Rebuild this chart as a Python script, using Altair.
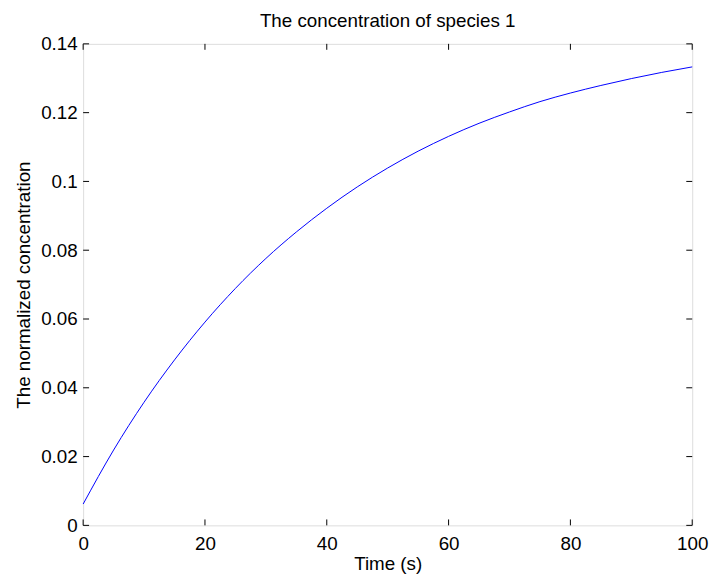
import altair as alt
import pandas as pd

# Data
time_s = [0, 5, 10, 15, 20, 25, 30, 35, 40, 45, 50,
          55, 60, 65, 70, 75, 80, 85, 90, 95, 100]
concentration = [0.0062, 0.0219, 0.0358, 0.0481, 0.0591, 0.0689, 0.0776,
                 0.0853, 0.0922, 0.0984, 0.1039, 0.1088, 0.1131, 0.1169,
                 0.1202, 0.1232, 0.1257, 0.1279, 0.1299, 0.1317, 0.1333]
x_ticks = [0, 20, 40, 60, 80, 100]
y_ticks = [0, 0.02, 0.04, 0.06, 0.08, 0.1, 0.12, 0.14]

title_text = "The concentration of species 1"
x_title = "Time (s)"
y_title = "The normalized concentration"

W, H = 616, 487
FONT = "Liberation Sans"
FS = 19
TICK = 6

df = pd.DataFrame({"t": time_s, "c": concentration})
xt = pd.DataFrame({"t": x_ticks})
yt = pd.DataFrame({"c": y_ticks})

xscale = alt.Scale(domain=[0, 100], nice=False, zero=False)
yscale = alt.Scale(domain=[0, 0.14], nice=False, zero=False)

xaxis = alt.Axis(values=x_ticks, ticks=False, tickSize=0, domain=False, grid=False,
                 labelFont=FONT, labelFontSize=FS, labelColor="black",
                 labelPadding=9, labelFlush=False, labelOverlap=False, labelBound=False,
                 title=x_title, titleFont=FONT, titleFontSize=FS, titleFontWeight="normal",
                 titleColor="black", titleX=W / 2, titleY=45, titleAlign="center",
                 titleBaseline="alphabetic")
yaxis = alt.Axis(values=y_ticks, format="~g", ticks=False, tickSize=0, domain=False, grid=False,
                 labelFont=FONT, labelFontSize=FS, labelColor="black",
                 labelPadding=6, labelFlush=False, labelOverlap=False, labelBound=False,
                 title=y_title, titleFont=FONT, titleFontSize=FS, titleFontWeight="normal",
                 titleColor="black", titleX=-54.5, titleY=H / 2, titleAngle=270,
                 titleAlign="center", titleBaseline="alphabetic")

X = lambda: alt.X("t:Q", scale=xscale, axis=xaxis)
Y = lambda: alt.Y("c:Q", scale=yscale, axis=yaxis)

line = alt.Chart(df).mark_line(color="#0000ff", strokeWidth=1, interpolate="monotone").encode(
    x=X(), y=Y())

tick_style = dict(color="#000000", strokeWidth=1)
bottom_ticks = alt.Chart(xt).mark_rule(**tick_style).encode(
    x=X(), y=alt.value(H), y2=alt.value(H - TICK))
top_ticks = alt.Chart(xt).mark_rule(**tick_style).encode(
    x=X(), y=alt.value(0), y2=alt.value(TICK))
left_ticks = alt.Chart(yt).mark_rule(**tick_style).encode(
    y=Y(), x=alt.value(0), x2=alt.value(TICK))
right_ticks = alt.Chart(yt).mark_rule(**tick_style).encode(
    y=Y(), x=alt.value(W), x2=alt.value(W - TICK))

chart = alt.layer(line, bottom_ticks, top_ticks, left_ticks, right_ticks).properties(
    width=W, height=H,
    title=alt.TitleParams(title_text, font=FONT, fontSize=FS, fontWeight="normal",
                          color="black", anchor="middle", offset=4),
    autosize=alt.AutoSizeParams(type="none"),
    padding={"left": 76, "top": 33, "right": 19, "bottom": 53},
).configure_view(stroke="#000000", strokeWidth=1).configure(background="white")

chart.save("out.html", embed_options={"renderer": "svg", "actions": False})
